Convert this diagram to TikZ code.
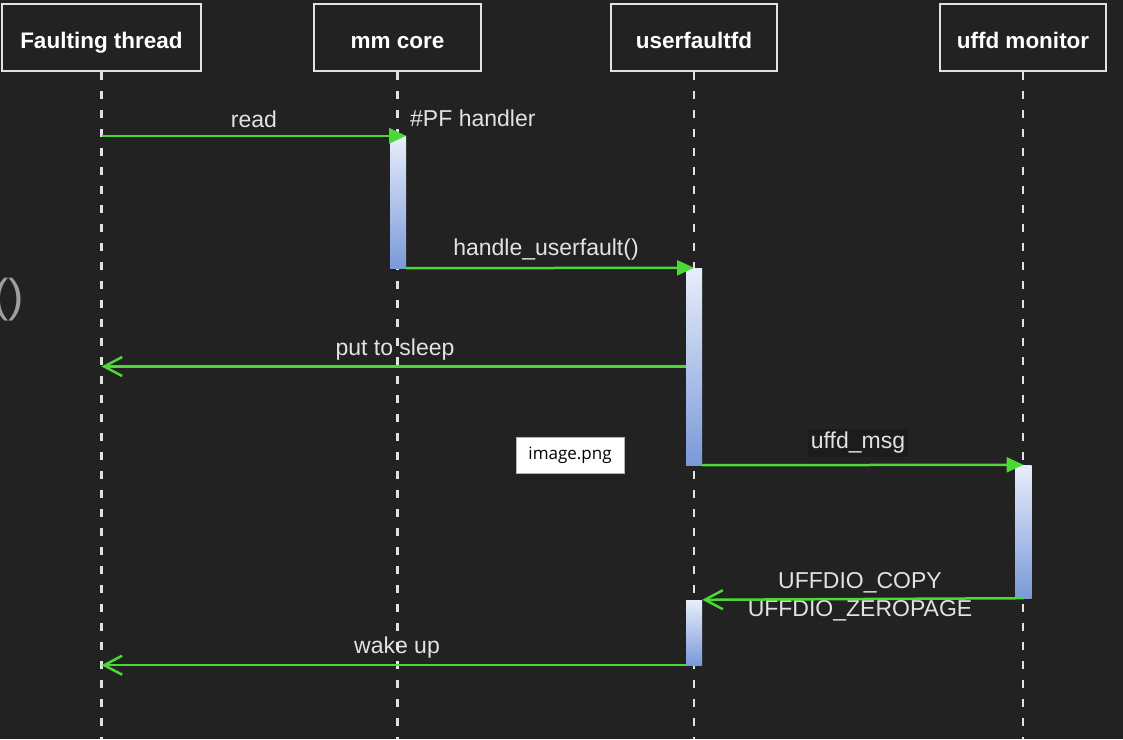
\documentclass[tikz,border=0pt]{standalone}
\usepackage{fontspec}
\setmainfont{Liberation Sans}
\newfontfamily\notefont{Open Sans}
\usetikzlibrary{arrows.meta,calc}
\definecolor{bg}{HTML}{222222}
\definecolor{fg}{HTML}{E2E2E2}
\definecolor{grn}{HTML}{4CD936}
\definecolor{actTop}{HTML}{E8EEFB}
\definecolor{actBot}{HTML}{7A99D8}
\definecolor{lblbg}{HTML}{1C1C1C}
\begin{document}
\begin{tikzpicture}[x=1pt,y=-1pt,
  actor/.style={draw=fg, line width=2.2pt, fill=bg, text=white, font=\fontsize{22.5}{26}\selectfont\bfseries, minimum height=67pt, inner sep=0, text height=21pt, text depth=0pt},
  life/.style={draw=fg, line width=2.6pt, dash pattern=on 8pt off 11pt},
  actbar/.style={rectangle, inner sep=0, minimum width=16pt, top color=actTop, bottom color=actBot, draw=none},
  msg/.style={draw=grn, line width=2.5pt},
  callarrow/.style={msg, -{Triangle[length=17pt,width=15pt]}},
  retarrow/.style={msg, -{Straight Barb[length=18pt,width=19pt,line width=2.5pt]}},
  lbl/.style={text=fg, font=\fontsize{23}{27}\selectfont, inner sep=0}
]
\fill[bg] (0,0) rectangle (1123,739);
\useasboundingbox (0,0) rectangle (1123,739);

% partial text at left edge
\node[text=gray!75, font=\fontsize{46}{50}\selectfont, anchor=east, inner sep=0] (paren) at (24,300) {()};

% actors
\node[actor, minimum width=199pt] (ft) at (101.5,37.5) {Faulting thread};
\node[actor, minimum width=167pt] (mm) at (397.5,37.5) {mm core};
\node[actor, minimum width=166pt] (uf) at (694,37.5) {userfaultfd};
\node[actor, minimum width=166pt] (mon) at (1023,37.5) {uffd monitor};

\coordinate (ftEnd) at (101.5,739);
\coordinate (mmEnd) at (397.5,739);
\coordinate (ufEnd) at (694,739);
\coordinate (monEnd) at (1023,739);

% labels
\node[lbl] (lread) at (254,119) {read};
\node[lbl, anchor=west] (lpf) at (410,118) {\#PF handler};
\node[lbl] (lhu) at (546,250) {handle\_userfault()};
\node[lbl] (lsleep) at (395,350) {put to sleep};
\node[lbl, fill=lblbg, inner sep=3pt] (lmsg) at (858,443) {uffd\_msg};
\node[lbl] (lcopy) at (860,583) {UFFDIO\_COPY};
\node[lbl] (lzero) at (860,611) {UFFDIO\_ZEROPAGE};
\node[lbl] (lwake) at (397,648) {wake up};

% lifelines
\draw[life] (ft.south) -- (ftEnd);
\draw[life] (mm.south) -- (mmEnd);
\draw[life] (uf.south) -- (ufEnd);
\draw[life] (mon.south) -- (monEnd);

% activation bars
\node[actbar, minimum height=132pt] (a1) at (398,202) {};
\node[actbar, minimum height=197pt] (a2) at (694,366.5) {};
\node[actbar, minimum height=133pt] (a3) at (1023.5,531.5) {};
\node[actbar, minimum height=65pt] (a4) at (694,632.5) {};

% messages
\draw[callarrow] (ft.south |- a1.north) -- (a1.north east);
\draw[callarrow] (a1.south east) -- (a2.north);
\draw[retarrow] (a2.west) -- (ft.south |- a2.west);
\draw[callarrow] (a2.south east) -- (a3.north);
\draw[retarrow] (a3.south) -- (a4.north east);
\draw[retarrow] (a4.south west) -- (ft.south |- a4.south west);

% overlay note
\node[draw=gray!60, line width=0.8pt, fill=white, minimum width=108pt, minimum height=36pt, inner sep=0, text=black, font=\notefont\fontsize{17}{20}\selectfont] (note) at (570,455) {image.png};
\end{tikzpicture}
\end{document}
